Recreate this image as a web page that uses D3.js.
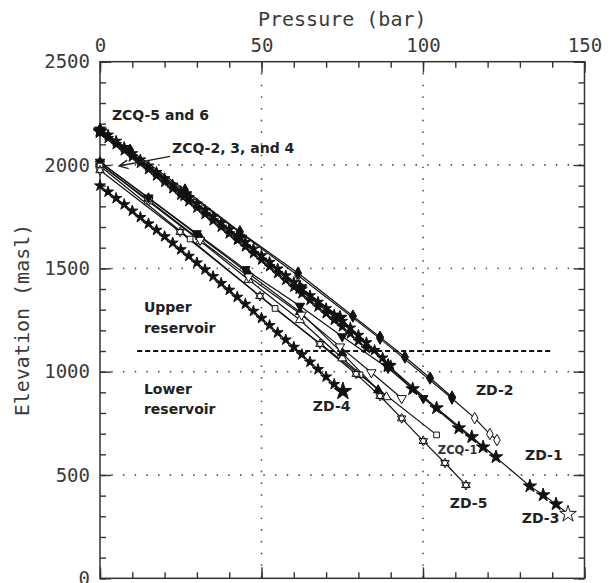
<!DOCTYPE html>
<html>
<head>
<meta charset="utf-8">
<script src="https://d3js.org/d3.v7.min.js"></script>
<style>
	body { margin: 0; background: #fff; }
	svg { display: block; }
</style>
</head>
<body>
<svg id="chart" width="609" height="583"></svg>
<script>
// pressure (bar), elevation (masl)
var zcq5 = [[0,2175],[2.5,2146],[5,2116],[7.5,2086],[10,2056],[12.5,2026],[15,1996],[17.5,1965],[20,1935],[22.5,1904],[25,1873],[27.5,1843],[30,1812],[32.5,1781],[35,1750],[37.5,1719],[40,1688],[42.5,1657],[45,1626],[47.5,1594],[50,1562],[52.5,1530],[55,1498],[57.5,1465],[60,1432],[62.5,1400],[65,1368],[67.5,1337],[70,1306],[72.5,1275],[75,1245],[77.5,1212],[80,1177],[82.5,1141],[85,1104],[87.5,1067],[90,1030]];
var zcq6 = [[0,2160],[2.5,2130],[5,2100],[7.5,2070],[10,2040],[12.5,2009],[15,1979],[17.5,1948],[20,1917],[22.5,1886],[25,1855],[27.5,1824],[30,1793],[32.5,1762],[35,1731],[37.5,1700],[40,1668],[42.5,1637],[45,1605],[47.5,1573],[50,1541],[52.5,1509],[55,1476],[57.5,1443],[60,1410],[62.5,1378],[65,1346],[67.5,1314],[70,1282],[72.5,1250],[75,1218],[77.5,1184],[80,1149],[82.5,1113]];
var zd4 = [[0,1900],[2.5,1870],[5,1839],[7.5,1809],[10,1778],[12.5,1747],[15,1716],[17.5,1685],[20,1654],[22.5,1623],[25,1591],[27.5,1559],[30,1527],[32.5,1494],[35,1461],[37.5,1428],[40,1395],[42.5,1361],[45,1327],[47.5,1293],[50,1259],[52.5,1224],[55,1189],[57.5,1154],[60,1119],[62.5,1083],[65,1047],[67.5,1011],[70,975],[72.5,939],[75.2,905]];
var zd2 = [[0,2170],[9.3,2072],[26.3,1879],[43.3,1677],[61.3,1477],[78.3,1269],[86.7,1167],[94.4,1071],[102.2,969],[109,877]];
var zd2b = [[0,2165],[26.3,1870],[61.3,1465],[86.7,1160],[109,870],[116,775],[120.7,698],[122.9,669]];
var zd1 = [[0,2160],[26.3,1855],[43.3,1647],[61.9,1405],[74.3,1260],[89.2,1027],[96.8,916],[111.1,727],[118.6,635],[122.6,587]];
var zd3 = [[0,2168],[26.3,1860],[43.3,1650],[61.9,1410],[74.3,1262],[89.2,1030],[104.2,824],[115.1,684],[133.1,446],[137.2,403],[141.2,359],[144.9,311]];
var zcq2 = [[0,2005],[15,1830],[31,1637],[46,1460],[62.4,1275],[74.3,1121],[84,996],[93.4,871]];
var zcqTri = [[0,2015],[15,1842],[29.9,1669],[45,1495],[61.9,1318],[75,1170],[89.2,1017],[100.1,871]];
var zcq1 = [[0,1995],[27.9,1642],[54.2,1306],[80.5,985],[104.2,694]];
var zd5 = [[0,1975],[24.8,1676],[49.5,1366],[68.1,1134],[79.3,989],[86.7,882],[93.4,774],[100.1,664],[106.8,558],[113.3,451]];
var zcq3 = [[0,2005],[15,1825],[31,1632],[46,1445],[61.9,1250],[75,1065],[88.7,877]];
var zcq4 = [[0,2015],[15,1840],[31,1652],[46,1475],[61.9,1289],[75,1090],[86.1,911]];

var xTicks = [0, 50, 100, 150];
var yTicks = [0, 500, 1000, 1500, 2000, 2500];
var reservoirBoundary = [[11.5, 1100], [140, 1100]];

// text notes: [text, pressure, elevation]
var notes = [
	["ZCQ-5 and 6", 3.7, 2218],
	["ZCQ-2, 3, and 4", 22.3, 2057],
	["Upper", 13.6, 1289],
	["reservoir", 13.6, 1189],
	["Lower", 13.6, 894],
	["reservoir", 13.6, 797],
	["ZD-4", 65.9, 809],
	["ZD-2", 116.4, 887],
	["ZD-1", 131.6, 572],
	["ZD-5", 108.3, 340],
	["ZD-3", 130.6, 266]
];
var smallNotes = [["ZCQ-1", 104.6, 601]];
var arrowNote = [[21.7, 2042], [5.9, 1995]];

var svg = d3.select("#chart");

var x = d3.scaleLinear().domain([0, 150]).range([100, 584.5]);
var y = d3.scaleLinear().domain([0, 2500]).range([578.3, 61.7]);

var monoFont = "'DejaVu Sans Mono', 'Liberation Mono', monospace";
var boldFont = "'DejaVu Sans', Arial, sans-serif";

// hexagram (star of David) symbol, not in d3
var symbolHexagram = {
	draw: function(context, size) {
		var r = Math.sqrt(size) * 0.66;
		[-90, 90].forEach(function(start) {
			for (var k = 0; k < 3; k++) {
				var a = (start + k * 120) * Math.PI / 180;
				if (k === 0) context.moveTo(r * Math.cos(a), r * Math.sin(a));
				else context.lineTo(r * Math.cos(a), r * Math.sin(a));
			}
			context.closePath();
		});
	}
};

var symbolTypes = {
	star: d3.symbolStar,
	diamond: d3.symbolDiamond,
	triangle: d3.symbolTriangle,
	triangleDown: d3.symbolTriangle,
	square: d3.symbolSquare,
	hexagram: symbolHexagram
};

var series = [
	{ name: "ZCQ-3", pts: zcq3, shape: "triangle", filled: false, size: 36 },
	{ name: "ZCQ-4", pts: zcq4, shape: "triangle", filled: true, size: 36 },
	{ name: "ZCQ-2", pts: zcq2, shape: "triangleDown", filled: false, size: 38 },
	{ name: "ZCQ-x", pts: zcqTri, shape: "triangleDown", filled: true, size: 38 },
	{ name: "ZCQ-1", pts: zcq1, shape: "square", filled: false, size: 32 },
	{ name: "ZD-5", pts: zd5, shape: "hexagram", filled: false, size: 55 },
	{ name: "ZD-2b", pts: zd2b, shape: "diamond", filled: false, size: 38 },
	{ name: "ZD-2", pts: zd2, shape: "diamond", filled: true, size: 44 },
	{ name: "ZD-1", pts: zd1, shape: "star", filled: true, size: 55 },
	{ name: "ZD-3", pts: zd3, shape: "star", filled: true, size: 55, endSize: 85, endFilled: false },
	{ name: "ZCQ-6", pts: zcq6, shape: "star", filled: true, size: 36 },
	{ name: "ZCQ-5", pts: zcq5, shape: "star", filled: true, size: 36 },
	{ name: "ZD-4", pts: zd4, shape: "star", filled: true, size: 38, endSize: 95 }
];

// dotted grid
var grid = svg.append("g").attr("class", "grid")
	.attr("stroke", "#555")
	.attr("stroke-width", 1.8)
	.attr("stroke-linecap", "round")
	.attr("stroke-dasharray", "0,11.7");

grid.selectAll("line.gx")
	.data([50, 100])
	.enter().append("line")
	.attr("class", "gx")
	.attr("x1", function(d) { return x(d); })
	.attr("x2", function(d) { return x(d); })
	.attr("y1", y(2500) + 12)
	.attr("y2", y(0));

grid.selectAll("line.gy")
	.data([500, 1000, 1500, 2000])
	.enter().append("line")
	.attr("class", "gy")
	.attr("y1", function(d) { return y(d); })
	.attr("y2", function(d) { return y(d); })
	.attr("x1", x(0) + 12)
	.attr("x2", x(150));

// reservoir boundary
svg.append("line")
	.attr("x1", x(reservoirBoundary[0][0]))
	.attr("x2", x(reservoirBoundary[1][0]))
	.attr("y1", y(reservoirBoundary[0][1]))
	.attr("y2", y(reservoirBoundary[1][1]))
	.attr("stroke", "#111")
	.attr("stroke-width", 2)
	.attr("stroke-dasharray", "5,3");

// axes, ticks pointing inward
var axisColor = "#333";

var drawAxis = function(axis, transform, labels) {
	var g = svg.append("g").attr("transform", transform).call(axis);
	g.select(".domain").remove();
	g.selectAll("line").attr("stroke", axisColor).attr("stroke-width", 1.4);
	g.selectAll("text")
		.attr("fill", "#3a3a3a")
		.style("font-family", monoFont)
		.style("font-size", "19px");
	if (!labels) g.selectAll("text").remove();
	return g;
};

var minorX = d3.range(0, 151, 10);
var minorY = d3.range(0, 2501, 100);

drawAxis(d3.axisTop(x).tickValues(minorX).tickSize(-6).tickFormat(""), "translate(0," + y(2500) + ")", false);
drawAxis(d3.axisTop(x).tickValues(xTicks).tickSize(-11).tickPadding(10).tickFormat(d3.format("d")), "translate(0," + y(2500) + ")", true);
drawAxis(d3.axisBottom(x).tickValues(minorX).tickSize(-6).tickFormat(""), "translate(0," + y(0) + ")", false);
drawAxis(d3.axisBottom(x).tickValues(xTicks).tickSize(-11).tickFormat(""), "translate(0," + y(0) + ")", false);
drawAxis(d3.axisLeft(y).tickValues(minorY).tickSize(-6).tickFormat(""), "translate(" + x(0) + ",0)", false);
drawAxis(d3.axisLeft(y).tickValues(yTicks).tickSize(-11).tickPadding(10).tickFormat(d3.format("d")), "translate(" + x(0) + ",0)", true);
drawAxis(d3.axisRight(y).tickValues(minorY).tickSize(-6).tickFormat(""), "translate(" + x(150) + ",0)", false);
drawAxis(d3.axisRight(y).tickValues(yTicks).tickSize(-11).tickFormat(""), "translate(" + x(150) + ",0)", false);

svg.append("rect")
	.attr("x", x(0))
	.attr("y", y(2500))
	.attr("width", x(150) - x(0))
	.attr("height", y(0) - y(2500))
	.attr("fill", "none")
	.attr("stroke", axisColor)
	.attr("stroke-width", 1.5);

svg.append("text")
	.attr("x", (x(0) + x(150)) / 2)
	.attr("y", 26)
	.attr("text-anchor", "middle")
	.attr("fill", "#3a3a3a")
	.style("font-family", monoFont)
	.style("font-size", "20px")
	.text("Pressure  (bar)");

svg.append("text")
	.attr("transform", "translate(29," + ((y(0) + y(2500)) / 2) + ") rotate(-90)")
	.attr("text-anchor", "middle")
	.attr("fill", "#3a3a3a")
	.style("font-family", monoFont)
	.style("font-size", "20px")
	.text("Elevation  (masl)");

// profiles
var line = d3.line()
	.x(function(d) { return x(d[0]); })
	.y(function(d) { return y(d[1]); });

var profiles = svg.append("g").attr("class", "profiles");

profiles.selectAll("path.profile")
	.data(series)
	.enter().append("path")
	.attr("class", "profile")
	.attr("d", function(s) { return line(s.pts); })
	.attr("fill", "none")
	.attr("stroke", "#111")
	.attr("stroke-width", 1.2);

series.forEach(function(s) {
	var last = s.pts.length - 1;
	profiles.append("g")
		.selectAll("path")
		.data(s.pts)
		.enter().append("path")
		.attr("d", function(d, i) {
			var size = (i === last && s.endSize) ? s.endSize : s.size;
			return d3.symbol().type(symbolTypes[s.shape]).size(size)();
		})
		.attr("transform", function(d) {
			var t = "translate(" + x(d[0]) + "," + y(d[1]) + ")";
			return s.shape === "triangleDown" ? t + " rotate(180)" : t;
		})
		.attr("fill", function(d, i) {
			if (i === last && s.endFilled === false) return "#fff";
			return s.filled ? "#111" : "#fff";
		})
		.attr("stroke", "#111")
		.attr("stroke-width", 1);
});

// annotations
svg.selectAll("text.note")
	.data(notes)
	.enter().append("text")
	.attr("class", "note")
	.attr("x", function(d) { return x(d[1]); })
	.attr("y", function(d) { return y(d[2]); })
	.attr("fill", "#222")
	.style("font-family", boldFont)
	.style("font-weight", "bold")
	.style("font-size", "14px")
	.text(function(d) { return d[0]; });

svg.selectAll("text.small-note")
	.data(smallNotes)
	.enter().append("text")
	.attr("class", "small-note")
	.attr("x", function(d) { return x(d[1]); })
	.attr("y", function(d) { return y(d[2]); })
	.attr("fill", "#333")
	.style("font-family", boldFont)
	.style("font-weight", "bold")
	.style("font-size", "11.5px")
	.text(function(d) { return d[0]; });

// arrow to the ZCQ-2, 3 and 4 start points
var a0 = [x(arrowNote[0][0]), y(arrowNote[0][1])];
var a1 = [x(arrowNote[1][0]), y(arrowNote[1][1])];
var ang = Math.atan2(a0[1] - a1[1], a0[0] - a1[0]);
var head = 10;
svg.append("path")
	.attr("d", "M" + a0 + "L" + a1 +
		"M" + [a1[0] + head * Math.cos(ang - 0.45), a1[1] + head * Math.sin(ang - 0.45)] +
		"L" + a1 +
		"L" + [a1[0] + head * Math.cos(ang + 0.45), a1[1] + head * Math.sin(ang + 0.45)])
	.attr("fill", "none")
	.attr("stroke", "#222")
	.attr("stroke-width", 1.4);
</script>
</body>
</html>
